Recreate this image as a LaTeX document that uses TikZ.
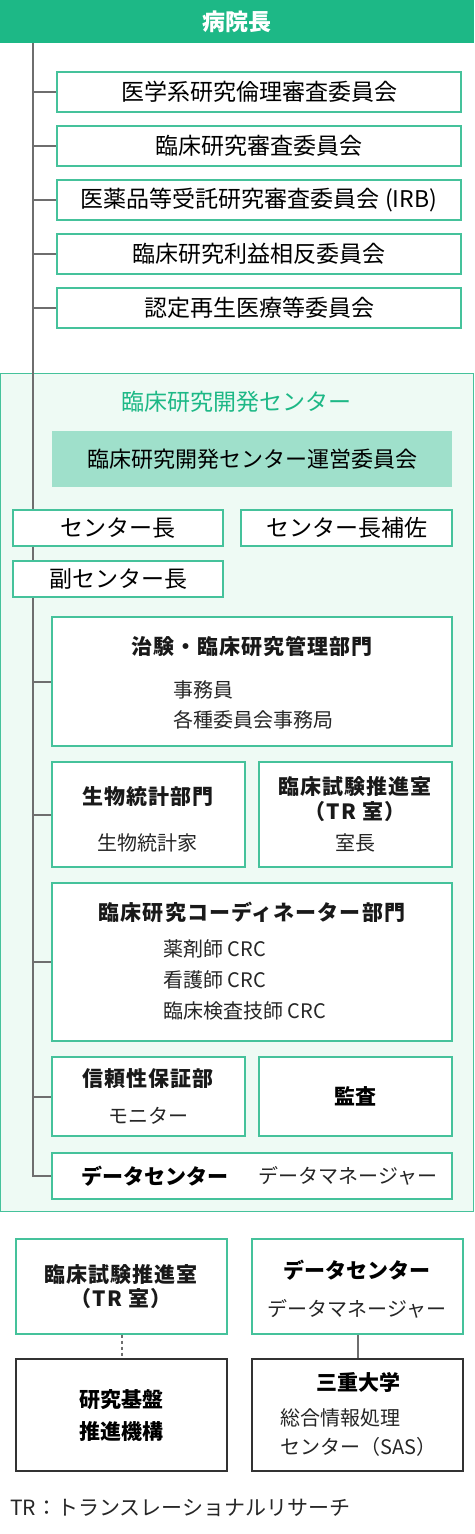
\documentclass[tikz,border=0pt]{standalone}
\usepackage{fontspec}
\setmainfont{Noto Sans CJK JP}
\newfontfamily\ttlfont[LetterSpace=5]{Noto Sans CJK JP}
\usetikzlibrary{backgrounds}
\definecolor{headgreen}{HTML}{1DB886}
\definecolor{boxgreen}{HTML}{45C29B}
\definecolor{areafill}{HTML}{EEFAF4}
\definecolor{opsgreen}{HTML}{9FE0CB}
\definecolor{linegray}{HTML}{6E6E6E}

\begin{document}
\begin{tikzpicture}[x=1pt,y=-1pt,
  box/.style={draw=boxgreen,line width=1.4pt,fill=white,inner sep=0pt},
  darkbox/.style={draw=black!80,line width=1.4pt,fill=white,inner sep=0pt},
  trunkline/.style={draw=linegray,line width=2pt},
  big/.style={font=\fontsize{23}{27}\selectfont,text=black},
  ttl/.style={font=\fontsize{21}{25}\ttlfont\bfseries,text=black!90,align=center,inner sep=0pt},
  heavy/.style={font=\fontsize{21}{25}\selectfont\bfseries,text=black,align=center,inner sep=0pt},
  itm/.style={font=\fontsize{20}{24}\selectfont,text=black!85,inner sep=0pt}]
\useasboundingbox (0,0) rectangle (474,1534);
\node[fill=headgreen,minimum width=474,minimum height=43,inner sep=0pt,font=\fontsize{23}{27}\selectfont\bfseries,text=white] (head) at (237,21.5) {病院長};
\node[box,big,minimum width=404,minimum height=40] (c1) at (259,92) {医学系研究倫理審査委員会};
\node[box,big,minimum width=404,minimum height=40] (c2) at (259,146) {臨床研究審査委員会};
\node[box,big,minimum width=404,minimum height=40] (c3) at (259,200) {医薬品等受託研究審査委員会 (IRB)};
\node[box,big,minimum width=404,minimum height=40] (c4) at (259,254) {臨床研究利益相反委員会};
\node[box,big,minimum width=404,minimum height=40] (c5) at (259,308) {認定再生医療等委員会};
\node[font=\fontsize{23}{27}\selectfont,text=headgreen] (crdttl) at (236.5,402) {臨床研究開発センター};
\node[fill=opsgreen,minimum width=400,minimum height=56,inner sep=0pt,font=\fontsize{22}{26}\selectfont] (ops) at (252,459) {臨床研究開発センター運営委員会};
\node[box,big,minimum width=210,minimum height=36] (chief) at (118,528) {センター長};
\node[box,big,minimum width=211,minimum height=36] (asst) at (346.5,528) {センター長補佐};
\node[box,big,minimum width=210,minimum height=36] (vice) at (118,579) {副センター長};
\node[box,minimum width=400,minimum height=129] (mgmt) at (252,681.5) {};
\node[ttl] (mgmtttl) at (252,647) {治験・臨床研究管理部門};
\node[itm,anchor=west,align=left,font=\fontsize{20}{30}\selectfont] (mgmtitm) at (173,705) {事務員\\各種委員会事務局};
\node[box,minimum width=193,minimum height=105] (bio) at (148.5,814.5) {};
\node[ttl] (biottl) at (148,797) {生物統計部門};
\node[itm] (bioitm) at (147,843) {生物統計家};
\node[box,minimum width=193,minimum height=105] (tr) at (355.5,814.5) {};
\node[ttl] (trttl) at (355,799.5) {臨床試験推進室\\（TR 室）};
\node[itm] (tritm) at (355,843) {室長};
\node[box,minimum width=400,minimum height=158] (crc) at (252,962) {};
\node[ttl] (crcttl) at (252,912) {臨床研究コーディネーター部門};
\node[itm,anchor=west,align=left,font=\fontsize{20}{31}\selectfont] (crcitm) at (163,980) {薬剤師 CRC\\看護師 CRC\\臨床検査技師 CRC};
\node[box,minimum width=193,minimum height=79] (qa) at (148.5,1096.5) {};
\node[ttl] (qattl) at (148,1079) {信頼性保証部};
\node[itm] (qaitm) at (148,1116) {モニター};
\node[box,heavy,minimum width=193,minimum height=79] (audit) at (355.5,1096.5) {監査};
\node[box,minimum width=400,minimum height=46] (dc) at (252,1176) {};
\node[heavy] (dcttl) at (155,1176) {データセンター};
\node[itm] (dcitm) at (348,1176) {データマネージャー};
\node[box,minimum width=211,minimum height=95] (tr2) at (121.5,1286.5) {};
\node[ttl,font=\fontsize{21}{24}\ttlfont\bfseries] (tr2ttl) at (121,1287) {臨床試験推進室\\（TR 室）};
\node[box,minimum width=211,minimum height=95] (dc2) at (357.5,1286.5) {};
\node[heavy] (dc2ttl) at (357,1270) {データセンター};
\node[itm] (dc2itm) at (357,1309) {データマネージャー};
\node[darkbox,heavy,font=\fontsize{21}{32}\selectfont\bfseries,minimum width=211,minimum height=112] (base) at (121.5,1415) {研究基盤\\推進機構};
\node[darkbox,minimum width=211,minimum height=112] (mie) at (357.5,1415) {};
\node[heavy] (miettl) at (358,1382) {三重大学};
\node[itm,anchor=west,align=left,font=\fontsize{20}{29}\selectfont] (mieitm) at (280,1432.5) {総合情報処理\\センター（SAS）};
\node[itm,anchor=west,font=\fontsize{21}{25}\selectfont] (note) at (10,1508) {TR：トランスレーショナルリサーチ};
\begin{scope}[on background layer]
\node[draw=boxgreen,line width=1pt,fill=areafill,minimum width=473,minimum height=838,inner sep=0pt] (crd) at (237,792) {};
\coordinate (top) at (33,43);
\draw[trunkline] (top) |- (dc.west);
\foreach \n in {c1,c2,c3,c4,c5,mgmt,bio,crc,qa}
  \draw[trunkline] (top |- \n.west) -- (\n.west);
\end{scope}
\draw[trunkline,dash pattern=on 3pt off 3pt] (tr2) -- (base);
\draw[trunkline] (dc2) -- (mie);
\end{tikzpicture}
\end{document}
